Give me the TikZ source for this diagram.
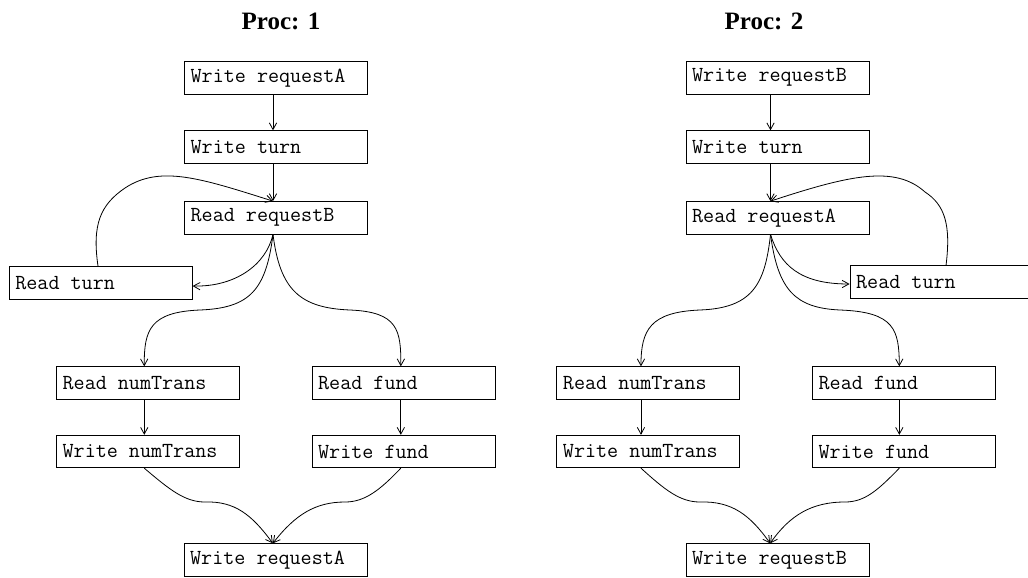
\documentclass[tikz,border=0pt]{standalone}
\usepackage{fontspec}
\setmainfont{Liberation Serif}
\usetikzlibrary{arrows.meta}
% one-line label, left-aligned in a box of fixed width
\newcommand{\oplabel}[1]{\makebox[128pt][l]{#1}}

\begin{document}
\begin{tikzpicture}[
  x=0.75pt, y=-0.75pt,
  op/.style={draw, line width=0.6pt, minimum width=137.25pt, minimum height=24.4pt,
    inner xsep=4.6pt, inner ysep=0pt,
    font=\ttfamily\fontsize{16.1}{18}\selectfont},
  title/.style={anchor=base, font=\bfseries\fontsize{18.75}{22}\selectfont},
  edge/.style={line width=0.6pt, -{Straight Barb[length=5pt,width=5.5pt]}},
]
\useasboundingbox (0,0) rectangle (1028,578);

% ---------------- process 1 ----------------
\node[title] (t1) at (281,29.3) {Proc: 1};
\node[op] (wa)  at (276,77.7)  {\oplabel{Write requestA}};
\node[op] (wt)  at (276,147)   {\oplabel{Write turn}};
\node[op] (rb)  at (276,217.8) {\oplabel{Read requestB}};
\node[op] (rt)  at (100.7,283) {\oplabel{Read turn}};
\node[op] (rn)  at (148,383)   {\oplabel{Read numTrans}};
\node[op] (rf)  at (403.5,383) {\oplabel{Read fund}};
\node[op] (wn)  at (148,451.5) {\oplabel{Write numTrans}};
\node[op] (wf)  at (403.5,451.5) {\oplabel{Write fund}};
\node[op] (wa2) at (275.5,560) {\oplabel{Write requestA}};

\draw[edge] ([xshift=-2.25pt]wa.south) -- ([xshift=-2.25pt]wt.north);
\draw[edge] ([xshift=-2.25pt]wt.south) -- ([xshift=-2.25pt]rb.north);
\draw[edge] ([xshift=-2.25pt]rb.south) .. controls (266,265) and (235,287) .. ([yshift=-2.25pt]rt.east);
\draw[edge] ([xshift=-2.25pt]rb.south) .. controls (266,290) and (250,308) .. (200,310)
  .. controls (150,312) and (144,330) .. ([xshift=-2.8pt]rn.north);
\draw[edge] ([xshift=-2.25pt]rb.south) .. controls (280,290) and (300,308) .. (350,310)
  .. controls (398,312) and (401,330) .. ([xshift=-2pt]rf.north);
\draw[edge] ([xshift=-2pt]rt.north) .. controls (92,225) and (100,205) .. (125,188)
  .. controls (160,165) and (200,178) .. ([xshift=-2.25pt]rb.north);
\draw[edge] ([xshift=-2.8pt]rn.south) -- ([xshift=-2.8pt]wn.north);
\draw[edge] ([xshift=-2pt]rf.south) -- ([xshift=-2pt]wf.north);
\draw[edge] ([xshift=-2.8pt]wn.south) .. controls (170,490) and (185,502) .. (205,502)
  .. controls (235,501) and (252,515) .. ([xshift=-2pt]wa2.north);
\draw[edge] ([xshift=-2pt]wf.south) .. controls (380,490) and (365,502) .. (345,502)
  .. controls (315,502) and (295,515) .. ([xshift=-2pt]wa2.north);

% ---------------- process 2 ----------------
\node[title] (t2) at (764,29) {Proc: 2};
\node[op] (xb)  at (777.5,77.7)  {\oplabel{Write requestB}};
\node[op] (xt)  at (777.5,147)   {\oplabel{Write turn}};
\node[op] (ra)  at (777.5,217.8) {\oplabel{Read requestA}};
\node[op] (st)  at (941.5,282)   {\oplabel{Read turn}};
\node[op] (sn)  at (648.3,383)   {\oplabel{Read numTrans}};
\node[op] (sf)  at (904,383)     {\oplabel{Read fund}};
\node[op] (xn)  at (648.3,451.5) {\oplabel{Write numTrans}};
\node[op] (xf)  at (904,451.5)   {\oplabel{Write fund}};
\node[op] (xb2) at (777.5,560)   {\oplabel{Write requestB}};

\draw[edge] ([xshift=-5.25pt]xb.south) -- ([xshift=-5.25pt]xt.north);
\draw[edge] ([xshift=-5.25pt]xt.south) -- ([xshift=-5.25pt]ra.north);
\draw[edge] ([xshift=-5.25pt]ra.south) .. controls (780,265) and (800,284) .. ([yshift=-1.5pt]st.west);
\draw[edge] ([xshift=-5.25pt]ra.south) .. controls (765,285) and (752,308) .. (700,310)
  .. controls (650,312) and (641,330) .. ([xshift=-5.5pt]sn.north);
\draw[edge] ([xshift=-5.25pt]ra.south) .. controls (778,290) and (795,308) .. (840,310)
  .. controls (895,312) and (899,330) .. ([xshift=-3.5pt]sf.north);
\draw[edge] ([xshift=3.4pt]st.north) .. controls (951,225) and (945,205) .. (925,192)
  .. controls (895,165) and (850,175) .. ([xshift=-5.25pt]ra.north);
\draw[edge] ([xshift=-5.5pt]sn.south) -- ([xshift=-5.5pt]xn.north);
\draw[edge] ([xshift=-3.5pt]sf.south) -- ([xshift=-3.5pt]xf.north);
\draw[edge] ([xshift=-5.5pt]xn.south) .. controls (665,490) and (680,502) .. (700,502)
  .. controls (732,501) and (750,515) .. ([xshift=-5.5pt]xb2.north);
\draw[edge] ([xshift=-3.5pt]xf.south) .. controls (878,490) and (865,502) .. (845,502)
  .. controls (812,502) and (790,515) .. ([xshift=-5.5pt]xb2.north);
\end{tikzpicture}
\end{document}
